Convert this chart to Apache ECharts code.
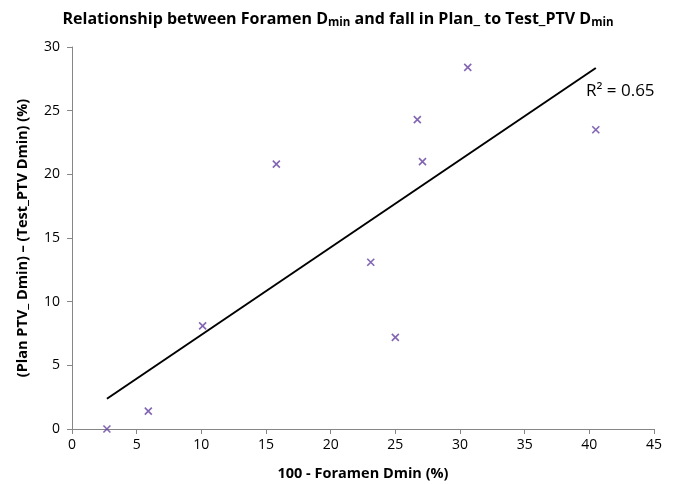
<!DOCTYPE html>
<html>
<head>
<meta charset="utf-8">
<script src="https://cdn.jsdelivr.net/npm/echarts@6/dist/echarts.min.js"></script>
<style>html,body{margin:0;padding:0;background:#fff;}#c{width:676px;height:484px;}</style>
</head>
<body>
<div id="c"></div>
<script>
var xValues = [2.7, 5.9, 10.1, 15.8, 23.1, 25.0, 26.7, 27.1, 30.6, 40.5];
var yValues = [0, 1.4, 8.1, 20.8, 13.1, 7.2, 24.3, 21.0, 28.4, 23.5];
var xTicks = [0, 5, 10, 15, 20, 25, 30, 35, 40, 45];
var yTicks = [0, 5, 10, 15, 20, 25, 30];
var r2Text = 'R² = 0.65';

var pts = xValues.map(function (x, i) { return [x, yValues[i]]; });
// least-squares trendline from the data
var n = xValues.length, mx = 0, my = 0;
for (var i = 0; i < n; i++) { mx += xValues[i]; my += yValues[i]; }
mx /= n; my /= n;
var sxy = 0, sxx = 0;
for (var i = 0; i < n; i++) { sxy += (xValues[i] - mx) * (yValues[i] - my); sxx += (xValues[i] - mx) * (xValues[i] - mx); }
var slope = sxy / sxx, icpt = my - slope * mx;
var xmin = Math.min.apply(null, xValues), xmax = Math.max.apply(null, xValues);
var trend = [[xmin, icpt + slope * xmin], [xmax, icpt + slope * xmax]];

var font = '"Open Sans", "Liberation Sans", sans-serif';
var chart = echarts.init(document.getElementById('c'));
chart.setOption({
  animation: false,
  backgroundColor: '#fff',
  title: {
    text: '{a|Relationship between Foramen D}{s|min}{a| and fall in Plan_ to Test_PTV D}{s|min}',
    left: 'center', top: 5,
    textStyle: {
      rich: {
        a: { fontFamily: font, fontWeight: 'bold', fontSize: 16, color: '#000' },
        s: { fontFamily: font, fontWeight: 'bold', fontSize: 11.5, color: '#000', verticalAlign: 'bottom', padding: [7, 0, 0, 0] }
      }
    }
  },
  grid: { left: 72, right: 22, top: 47, bottom: 55, containLabel: false, outerBoundsMode: 'none' },
  xAxis: {
    type: 'value', min: 0, max: 45, interval: 5,
    name: '100 - Foramen Dmin (%)', nameLocation: 'middle', nameGap: 37,
    nameTextStyle: { fontFamily: font, fontWeight: 'bold', fontSize: 14.5, color: '#000' },
    axisLine: { show: true, lineStyle: { color: '#868686', width: 1 } },
    axisTick: { show: true, inside: false, length: 5, lineStyle: { color: '#868686' } },
    axisLabel: { fontFamily: font, fontSize: 14, color: '#000', margin: 9,
      formatter: function (v) { return xTicks.indexOf(v) >= 0 ? String(v) : ''; } },
    splitLine: { show: false }
  },
  yAxis: {
    type: 'value', min: 0, max: 30, interval: 5,
    name: '(Plan PTV_ Dmin) \u2013 (Test_PTV Dmin) (%)', nameLocation: 'middle', nameGap: 42,
    nameTextStyle: { fontFamily: font, fontWeight: 'bold', fontSize: 14.5, color: '#000' },
    axisLine: { show: true, lineStyle: { color: '#868686', width: 1 } },
    axisTick: { show: true, inside: false, length: 5, lineStyle: { color: '#868686' } },
    axisLabel: { fontFamily: font, fontSize: 14, color: '#000', margin: 12,
      formatter: function (v) { return yTicks.indexOf(v) >= 0 ? String(v) : ''; } },
    splitLine: { show: false }
  },
  graphic: [{
    type: 'text', left: 586, top: 83,
    style: { text: r2Text, fontFamily: font, fontSize: 17, fill: '#000' }
  }],
  series: [
    {
      type: 'line', data: trend, symbol: 'none', silent: true,
      lineStyle: { color: '#000', width: 2 }, z: 2
    },
    {
      type: 'scatter', data: pts,
      symbol: 'path://M0,0L10,10M10,0L0,10', symbolSize: 7,
      itemStyle: { color: 'rgba(0,0,0,0)', borderColor: '#6440a0', borderWidth: 1.6 },
      z: 3
    }
  ]
});
</script>
</body>
</html>
